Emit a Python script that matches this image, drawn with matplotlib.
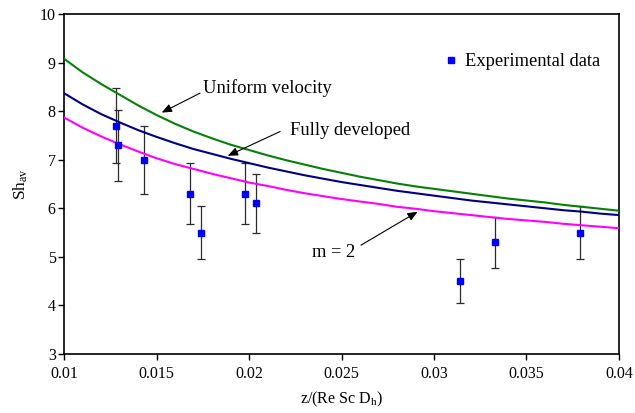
import numpy as np
import matplotlib
matplotlib.use("Agg")
import matplotlib.pyplot as plt

plt.rcParams['font.family'] = ['Liberation Serif', 'DejaVu Serif']
plt.rcParams['mathtext.fontset'] = 'custom'
plt.rcParams['mathtext.rm'] = 'Liberation Serif'
plt.rcParams['mathtext.it'] = 'Liberation Serif:italic'

# --- Data ---
z_curve = [0.010, 0.011, 0.012, 0.013, 0.014, 0.015, 0.016, 0.017, 0.018, 0.019,
           0.020, 0.021, 0.022, 0.023, 0.024, 0.025, 0.026, 0.027, 0.028, 0.029,
           0.030, 0.031, 0.032, 0.033, 0.034, 0.035, 0.036, 0.037, 0.038, 0.039,
           0.040]
sh_uniform = [9.08, 8.80, 8.56, 8.34, 8.12, 7.92, 7.74, 7.58, 7.44, 7.31,
              7.20, 7.09, 6.99, 6.90, 6.81, 6.73, 6.65, 6.58, 6.51, 6.45,
              6.40, 6.35, 6.30, 6.25, 6.20, 6.16, 6.12, 6.07, 6.03, 5.99,
              5.95]
sh_developed = [8.37, 8.14, 7.94, 7.77, 7.61, 7.47, 7.34, 7.22, 7.12, 7.02,
                6.93, 6.84, 6.76, 6.68, 6.61, 6.54, 6.48, 6.42, 6.36, 6.31,
                6.26, 6.21, 6.16, 6.12, 6.08, 6.04, 6.00, 5.96, 5.93, 5.89,
                5.86]
sh_m2 = [7.87, 7.66, 7.48, 7.32, 7.17, 7.03, 6.91, 6.81, 6.71, 6.62,
         6.53, 6.46, 6.38, 6.31, 6.25, 6.19, 6.14, 6.09, 6.03, 5.99,
         5.94, 5.90, 5.86, 5.82, 5.78, 5.75, 5.72, 5.68, 5.65, 5.62,
         5.59]

z_exp = [0.0128, 0.0129, 0.0143, 0.0168, 0.0174, 0.0198, 0.0204, 0.0314, 0.0333, 0.0379]
sh_exp = [7.7, 7.3, 7.0, 6.3, 5.5, 6.3, 6.1, 4.5, 5.3, 5.5]
sh_err = [0.77, 0.73, 0.70, 0.63, 0.55, 0.63, 0.61, 0.45, 0.53, 0.55]

# --- Figure ---
fig = plt.figure(figsize=(6.35, 4.13), dpi=100)
ax = fig.add_axes([0.1008, 0.1429, 0.874, 0.8232])

ax.errorbar(z_exp, sh_exp, yerr=sh_err, fmt='none', ecolor='#2a2a2a',
            elinewidth=0.9, capsize=3, capthick=0.9, zorder=2)
ax.plot(z_curve, sh_uniform, color='#078007', lw=1.5, zorder=3)
ax.plot(z_curve, sh_developed, color='#000080', lw=1.5, zorder=3)
ax.plot(z_curve, sh_m2, color='#ff00ff', lw=1.5, zorder=3)
ax.plot(z_exp, sh_exp, 's', color='#0000ff', ms=4.3, lw=0, zorder=4,
        label='Experimental data')

ax.set_xlim(0.01, 0.04)
ax.set_ylim(3, 10)
ax.set_xticks([0.01, 0.015, 0.02, 0.025, 0.03, 0.035, 0.04])
ax.set_xticklabels(['0.01', '0.015', '0.02', '0.025', '0.03', '0.035', '0.04'])
ax.set_yticks(range(3, 11))
ax.tick_params(direction='out', length=4, width=1, labelsize=11.5, colors='black')
ax.tick_params(axis='x', pad=5)
ax.tick_params(axis='y', pad=2)
for s in ax.spines.values():
    s.set_linewidth(1.2)

ax.set_xlabel(r'z/(Re Sc D$_{\mathrm{h}}$)', fontsize=11.5, labelpad=5)
ax.set_ylabel(r'Sh$_{\mathrm{av}}$', fontsize=12.5, labelpad=7)

# --- Annotations ---
arr = dict(arrowstyle='-|>,head_length=0.6,head_width=0.25', color='black',
           lw=0.8, shrinkA=0, shrinkB=0)
ax.text(0.0175, 8.47, 'Uniform velocity', fontsize=13.3, ha='left', va='center')
ax.annotate('', xy=(0.01528, 7.97), xytext=(0.01735, 8.37), arrowprops=arr)
ax.text(0.02222, 7.61, 'Fully developed', fontsize=13.3, ha='left', va='center')
ax.annotate('', xy=(0.01885, 7.08), xytext=(0.02168, 7.58), arrowprops=arr)
ax.text(0.02342, 5.09, 'm = 2', fontsize=13.3, ha='left', va='center')
ax.annotate('', xy=(0.02912, 5.93), xytext=(0.02605, 5.24), arrowprops=arr)

ax.legend(loc='center left', bbox_to_anchor=(0.685, 0.859), frameon=False,
          fontsize=13.3, handlelength=0.7, handletextpad=0.45,
          borderpad=0, borderaxespad=0, numpoints=1)

fig.savefig('out.png', dpi=100)
